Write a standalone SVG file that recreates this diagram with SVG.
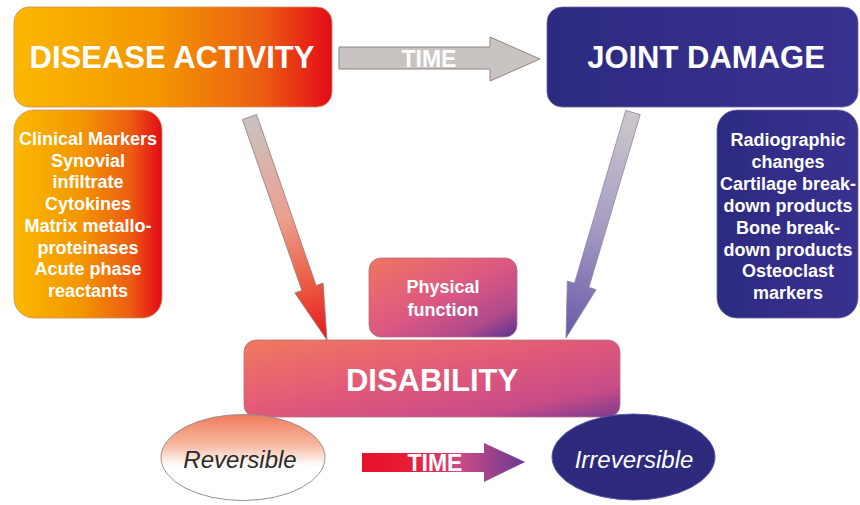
<svg xmlns="http://www.w3.org/2000/svg" width="860" height="505" viewBox="0 0 860 505">
<defs>
<linearGradient id="gOrange" x1="0" y1="0" x2="1" y2="0">
<stop offset="0" stop-color="#fbb800"/>
<stop offset="0.45" stop-color="#f39600"/>
<stop offset="0.78" stop-color="#ec5e12"/>
<stop offset="1" stop-color="#e30a18"/>
</linearGradient>
<linearGradient id="gBlue" x1="0" y1="0" x2="1" y2="0">
<stop offset="0" stop-color="#2c2a80"/>
<stop offset="1" stop-color="#3a3190"/>
</linearGradient>
<linearGradient id="gDis" x1="0" y1="0" x2="1" y2="1">
<stop offset="0" stop-color="#f07a5e"/>
<stop offset="0.45" stop-color="#e35a78"/>
<stop offset="0.8" stop-color="#c84c88"/>
<stop offset="1" stop-color="#7e3a8e"/>
</linearGradient>
<linearGradient id="gPhys" x1="0" y1="0" x2="1" y2="1">
<stop offset="0" stop-color="#f07560"/>
<stop offset="0.5" stop-color="#dc5882"/>
<stop offset="0.8" stop-color="#b04a8c"/>
<stop offset="1" stop-color="#563090"/>
</linearGradient>
<linearGradient id="gRev" x1="0" y1="0" x2="0" y2="1">
<stop offset="0" stop-color="#ef7a5a"/>
<stop offset="0.35" stop-color="#f6b8a0"/>
<stop offset="0.6" stop-color="#ffffff"/>
<stop offset="1" stop-color="#ffffff"/>
</linearGradient>
<linearGradient id="gTime2" gradientUnits="userSpaceOnUse" x1="362" y1="0" x2="525" y2="0">
<stop offset="0" stop-color="#e6102a"/>
<stop offset="0.3" stop-color="#e61e36"/>
<stop offset="0.6" stop-color="#cc4a86"/>
<stop offset="1" stop-color="#683a92"/>
</linearGradient>
<linearGradient id="gArrL" gradientUnits="userSpaceOnUse" x1="249" y1="117" x2="327" y2="340">
<stop offset="0" stop-color="#c9c2c2"/>
<stop offset="0.45" stop-color="#eca090"/>
<stop offset="0.75" stop-color="#ec5a40"/>
<stop offset="1" stop-color="#e6161c"/>
</linearGradient>
<linearGradient id="gArrR" gradientUnits="userSpaceOnUse" x1="633" y1="112" x2="566" y2="338">
<stop offset="0" stop-color="#cdc8cb"/>
<stop offset="0.5" stop-color="#a79cc4"/>
<stop offset="1" stop-color="#6858a8"/>
</linearGradient>
</defs>
<style>
.t{font-family:"Liberation Sans",Arial,sans-serif;font-weight:bold;fill:#ffffff;text-anchor:middle}
.big{font-size:31px}
.sm{font-size:18px}
.tm{font-size:23px}
.it{font-family:"Liberation Sans",Arial,sans-serif;font-style:italic;font-size:24px;text-anchor:middle}
</style>

<g id="connectors">
<polygon points="339,47 490,47 490,37 540,59 490,81 490,69 339,69" fill="#c9c4c1" stroke="#8c8682" stroke-width="1"/>
<text class="t tm" x="429" y="67">TIME</text>
<polygon points="242.4,119.5 256.6,114.5 316.1,285.5 323.1,283.1 327,340 294.8,292.9 301.9,290.5" fill="url(#gArrL)" stroke="#8a7c78" stroke-width="0.8"/>
<polygon points="625.8,110.4 640.2,114.6 588.9,287.4 596.1,289.6 566,338 567.3,281 574.5,283.2" fill="url(#gArrR)" stroke="#8a8498" stroke-width="0.8"/>
<polygon points="362,453 484,453 484,443 525,462 484,482 484,472 362,472" fill="url(#gTime2)"/>
<text class="t tm" x="435" y="471">TIME</text>
</g>

<g id="disease-activity">
<rect x="14" y="7" width="318" height="100" rx="15" fill="url(#gOrange)" stroke="#c89060" stroke-width="0.8"/>
<text class="t big" x="172" y="68">DISEASE ACTIVITY</text>
</g>

<g id="joint-damage">
<rect x="547" y="7" width="311" height="100" rx="15" fill="url(#gBlue)" stroke="#6a68a0" stroke-width="0.8"/>
<text class="t big" x="706" y="68">JOINT DAMAGE</text>
</g>

<g id="disease-markers">
<rect x="14" y="110" width="148" height="208" rx="20" fill="url(#gOrange)" stroke="#c89060" stroke-width="0.8"/>
<text class="t sm" x="88" y="145">Clinical Markers</text>
<text class="t sm" x="88" y="166.7">Synovial</text>
<text class="t sm" x="88" y="188.4">infiltrate</text>
<text class="t sm" x="88" y="210.1">Cytokines</text>
<text class="t sm" x="88" y="231.8">Matrix metallo-</text>
<text class="t sm" x="88" y="253.5">proteinases</text>
<text class="t sm" x="88" y="275.2">Acute phase</text>
<text class="t sm" x="88" y="296.9">reactants</text>
</g>

<g id="damage-markers">
<rect x="717" y="110" width="141" height="208" rx="20" fill="url(#gBlue)" stroke="#6a68a0" stroke-width="0.8"/>
<text class="t sm" x="788" y="146">Radiographic</text>
<text class="t sm" x="788" y="167.9">changes</text>
<text class="t sm" x="788" y="189.8">Cartilage break-</text>
<text class="t sm" x="788" y="211.7">down products</text>
<text class="t sm" x="788" y="233.6">Bone break-</text>
<text class="t sm" x="788" y="255.5">down products</text>
<text class="t sm" x="788" y="277.4">Osteoclast</text>
<text class="t sm" x="788" y="299.3">markers</text>
</g>

<g id="physical-function">
<rect x="369" y="258" width="148" height="79" rx="12" fill="url(#gPhys)" stroke="#b07080" stroke-width="0.8"/>
<text class="t sm" x="443" y="293">Physical</text>
<text class="t sm" x="443" y="316">function</text>
</g>

<g id="disability">
<rect x="244" y="340" width="376" height="77" rx="12" fill="url(#gDis)" stroke="#b07080" stroke-width="0.8"/>
<text class="t big" x="432" y="391">DISABILITY</text>
</g>

<g id="reversible">
<ellipse cx="243" cy="457.5" rx="82" ry="43" fill="url(#gRev)" stroke="#9a9090" stroke-width="1"/>
<text class="it" x="240" y="468" fill="#2a2a2a">Reversible</text>
</g>

<g id="irreversible">
<ellipse cx="633.5" cy="457" rx="81.5" ry="43" fill="#2d2a7e" stroke="#5a58a0" stroke-width="1"/>
<text class="it" x="634" y="468" fill="#ffffff">Irreversible</text>
</g>
</svg>
